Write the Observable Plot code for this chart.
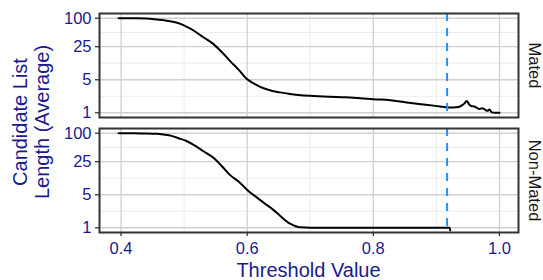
<!DOCTYPE html>
<html><head><meta charset="utf-8">
<script src="https://cdn.jsdelivr.net/npm/d3@7"></script>
<script src="https://cdn.jsdelivr.net/npm/@observablehq/plot@0.6"></script>
<style>
body{margin:0;background:#fff;}
#wrap{position:relative;width:543px;height:280px;font-family:"Liberation Sans",Arial,sans-serif;overflow:hidden;}
#xtitle{position:absolute;left:99px;width:419px;top:259px;text-align:center;font-size:20px;color:#1a1a8e;line-height:23px;}
#ytitle{position:absolute;left:-79px;top:100px;width:220px;height:44px;text-align:center;font-size:20px;line-height:22px;color:#1a1a8e;transform:rotate(-90deg);transform-origin:center;}
</style></head><body>
<div id="wrap"></div>
<script>
const panels = ["Mated", "Non-Mated"];
const matedX = [0.396,0.42,0.44,0.457,0.47,0.48,0.494,0.502,0.515,0.53,0.547,0.56,0.573,0.587,0.6,0.613,0.626,0.64,0.652,0.668,0.7,0.75,0.779,0.8,0.827,0.853,0.88,0.906,0.918,0.927,0.935,0.941,0.945,0.948,0.952,0.956,0.96,0.964,0.968,0.973,0.977,0.981,0.984,0.988,0.993,1.0];
const matedY = [100,99.5,98.5,94,90,85,76,68,55,40,28,19,12.4,8,5.1,4.0,3.3,2.9,2.7,2.5,2.28,2.14,2.04,1.94,1.85,1.65,1.5,1.36,1.3,1.29,1.32,1.45,1.6,1.78,1.5,1.38,1.36,1.28,1.2,1.25,1.17,1.1,1.17,1.02,1.0,1.0];
const nonMatedX = [0.396,0.42,0.44,0.457,0.47,0.48,0.494,0.502,0.515,0.53,0.547,0.56,0.573,0.589,0.6,0.615,0.626,0.642,0.652,0.668,0.676,0.684,0.7,0.8,0.9,0.921,0.922];
const nonMatedY = [100,99.5,99,97,93,88,76,70,57,42,30,20,13,8.9,6.3,4.4,3.4,2.36,1.8,1.22,1.09,1.02,1.0,1.0,1.0,1.0,0.88];
const xTicks = [0.4, 0.6, 0.8, 1.0];
const xMinor = [0.5, 0.7, 0.9];
const yTicks = [1, 5, 25, 100];
const yMinor = [2.236, 11.18, 50];
const threshold = [0.917];
const xTitle = "Threshold Value";
const yTitle = ["Candidate List", "Length (Average)"];

const rows = [
  ...matedX.map((x, i) => ({panel: panels[0], x, y: matedY[i]})),
  ...nonMatedX.map((x, i) => ({panel: panels[1], x, y: nonMatedY[i]}))
];

const blue = "#1a1a8e";
const plot = Plot.plot({
  width: 543, height: 280,
  marginLeft: 99, marginRight: 25, marginTop: 13, marginBottom: 48,
  style: {fontFamily: '"Liberation Sans", Arial, sans-serif', fontSize: "16.5px", background: "#fff", overflow: "visible"},
  x: {domain: [0.3658, 1.0302]},
  y: {type: "log", domain: [Math.pow(10, -0.1), Math.pow(10, 2.1)]},
  fy: {domain: panels, paddingInner: 0.1, paddingOuter: 0, axis: null, label: null},
  marks: [
    Plot.ruleX(xMinor, {stroke: "#ebebeb", strokeWidth: 1}),
    Plot.ruleY(yMinor, {stroke: "#ebebeb", strokeWidth: 1}),
    Plot.ruleX(xTicks, {stroke: "#d0d0d0", strokeWidth: 1.3}),
    Plot.ruleY(yTicks, {stroke: "#d0d0d0", strokeWidth: 1.3}),
    Plot.line(rows, {x: "x", y: "y", fy: "panel", stroke: "#000", strokeWidth: 2, curve: "monotone-x", clip: true}),
    Plot.ruleX(threshold, {stroke: "#1E90FF", strokeWidth: 2, strokeDasharray: "8,7"}),
    Plot.frame({stroke: "#333", strokeWidth: 2}),
    Plot.axisX(xTicks, {anchor: "bottom", tickFormat: d => d.toFixed(1), tickSize: 4, tickPadding: 6, stroke: "#333", strokeWidth: 1.3, fill: blue, label: null, fontSize: 16.5}),
    Plot.axisY(yTicks, {anchor: "left", ticks: 100, tickFormat: d => String(d), tickSize: 4, tickPadding: 4, stroke: "#333", strokeWidth: 1.3, fill: blue, label: null, fontSize: 16.5}),
    Plot.text(panels, {fy: d => d, text: d => d, frameAnchor: "right", dx: 15.5, rotate: 90, textAnchor: "middle", lineAnchor: "middle", fill: "#1a1a1a", fontSize: 16.5})
  ]
});
const wrap = document.getElementById("wrap");
wrap.appendChild(plot);
const xt = document.createElement("div");
xt.id = "xtitle"; xt.textContent = xTitle; wrap.appendChild(xt);
const yt = document.createElement("div");
yt.id = "ytitle"; yt.innerHTML = yTitle.join("<br>"); wrap.appendChild(yt);
</script>
</body></html>
